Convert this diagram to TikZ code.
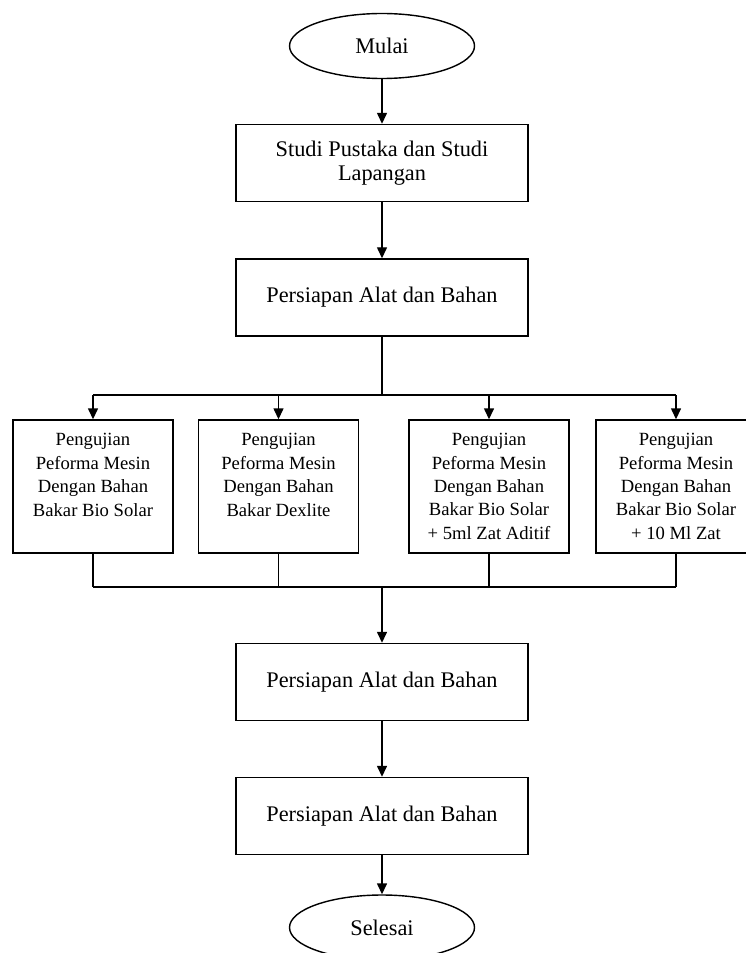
\documentclass[tikz,border=0pt]{standalone}
\usepackage{fontspec}
\setmainfont{Liberation Serif}
\usetikzlibrary{shapes.geometric,arrows.meta}

\begin{document}
\begin{tikzpicture}[
        kotak/.style = {draw, line width=.8pt, minimum width=5.84cm, minimum height=1.54cm, align=center, font=\fontsize{12.7}{13.7}\selectfont},
        kotakuji/.style = {draw, line width=.8pt, minimum width=3.2cm, minimum height=2.66cm, align=center, font=\fontsize{10.6}{13.3}\selectfont},
        elips/.style = {draw, ellipse, line width=.8pt, minimum width=3.7cm, minimum height=1.3cm, inner sep=0pt, font=\fontsize{12.7}{13.7}\selectfont},
        panah/.style = {line width=.8pt, -{Triangle[length=2.2mm, width=2mm]}},
        garis/.style = {line width=.8pt}
    ]
                \useasboundingbox (0, 0) rectangle (14.9, -19.06);

                \node[elips](mulai) at (7.64, -.92) {Mulai};
                \node[kotak](studi) at (7.64, -3.26) {Studi Pustaka dan Studi\\Lapangan};
                \node[kotak](persiapan) at (7.64, -5.95) {Persiapan Alat dan Bahan};

                \coordinate(busatas) at (7.64, -7.9);
                \coordinate(busbawah) at (7.64, -11.74);

                \node[kotakuji](ujiA) at (1.86, -9.73) {Pengujian\\Peforma Mesin\\Dengan Bahan\\Bakar Bio Solar\\~};
                \node[kotakuji](ujiB) at (5.57, -9.73) {Pengujian\\Peforma Mesin\\Dengan Bahan\\Bakar Dexlite\\~};
                \node[kotakuji](ujiC) at (9.78, -9.73) {Pengujian\\Peforma Mesin\\Dengan Bahan\\Bakar Bio Solar\\+ 5ml Zat Aditif};
                \node[kotakuji](ujiD) at (13.52, -9.73) {Pengujian\\Peforma Mesin\\Dengan Bahan\\Bakar Bio Solar\\+ 10 Ml Zat};

                \node[kotak](persiapanE) at (7.64, -13.64) {Persiapan Alat dan Bahan};
                \node[kotak](persiapanF) at (7.64, -16.32) {Persiapan Alat dan Bahan};
                \node[elips](selesai) at (7.64, -18.55) {Selesai};

                \draw[panah](mulai) to (studi);
                \draw[panah](studi) to (persiapan);

                \draw[garis](persiapan.south) to (busatas);
                \draw[garis](ujiA.north |- busatas) to (ujiD.north |- busatas);
                \foreach \uji in {ujiA, ujiB, ujiC, ujiD}
                    \draw[panah](\uji.north |- busatas) to (\uji.north);

                \foreach \uji in {ujiA, ujiB, ujiC, ujiD}
                    \draw[garis](\uji.south) to (\uji.south |- busbawah);
                \draw[garis](ujiA.south |- busbawah) to (ujiD.south |- busbawah);
                \draw[panah](busbawah) to (persiapanE);

                \draw[panah](persiapanE) to (persiapanF);
                \draw[panah](persiapanF) to (selesai);
\end{tikzpicture}
\end{document}
